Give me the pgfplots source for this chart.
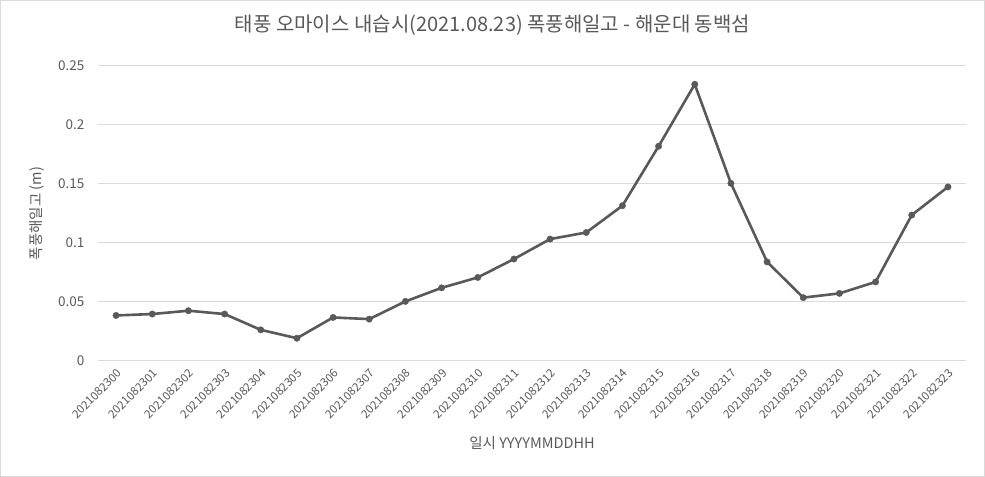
\documentclass[border=0pt]{standalone}
\usepackage{pgfplots}
\pgfplotsset{compat=1.18}
\usepackage{fontspec}
\setmainfont{Noto Sans CJK KR}
\definecolor{txt}{HTML}{595959}
\definecolor{grd}{HTML}{D9D9D9}
\definecolor{ln}{HTML}{595959}
\begin{document}
\begin{tikzpicture}[x=1bp,y=1bp]
\draw[color=grd, line width=1bp] (0.5,0.5) rectangle (984.5,476.5);
\begin{axis}[
  at={(98bp,116bp)}, anchor=south west,
  scale only axis, width=868bp, height=295bp,
  xmin=-0.5, xmax=23.5, ymin=0, ymax=0.25,
  axis line style={draw=none},
  x axis line style={draw=grd, line width=1bp},
  y axis line style={draw=none},
  ymajorgrids, grid style={draw=grd, line width=1bp},
  major tick length=0pt,
  xtick={0,...,23},
  xticklabels={2021082300,2021082301,2021082302,2021082303,2021082304,2021082305,2021082306,2021082307,2021082308,2021082309,2021082310,2021082311,2021082312,2021082313,2021082314,2021082315,2021082316,2021082317,2021082318,2021082319,2021082320,2021082321,2021082322,2021082323},
  ytick={0,0.05,0.1,0.15,0.2,0.25},
  yticklabels={0,0.05,0.1,0.15,0.2,0.25},
  /pgf/number format/assume math mode=true,
  xticklabel style={rotate=45, anchor=east, font=\fontsize{11.5bp}{13bp}\selectfont, text=txt, xshift=-1.5bp, yshift=-9.5bp},
  yticklabel style={font=\fontsize{13.5bp}{15bp}\selectfont, text=txt, xshift=-10bp},
  title={태풍 오마이스 내습시(2021.08.23) 폭풍해일고 - 해운대 동백섬},
  title style={at={(axis description cs:0.4545,1)}, anchor=center, yshift=35bp, font=\fontsize{20bp}{22bp}\selectfont, text=txt},
  xlabel={일시 YYYYMMDDHH},
  xlabel style={at={(axis description cs:0.5,0)}, anchor=center, yshift=-82bp, font=\fontsize{14.5bp}{16bp}\selectfont, text=txt},
  ylabel={폭풍해일고 (m)},
  ylabel style={at={(axis description cs:0,0.5)}, anchor=center, yshift=61bp, font=\fontsize{14.5bp}{16bp}\selectfont, text=txt},
  clip=false,
]
\addplot[color=ln, line width=2.6bp, mark=*, mark size=3.2bp, mark options={solid, fill=ln, draw=ln, line width=0.4bp}] coordinates {
(0,0.0386) (1,0.0398) (2,0.0426) (3,0.0398) (4,0.0264) (5,0.0193)
(6,0.0369) (7,0.0355) (8,0.0505) (9,0.062) (10,0.0708) (11,0.0864)
(12,0.1033) (13,0.1089) (14,0.1316) (15,0.182) (16,0.2345) (17,0.1506)
(18,0.084) (19,0.0537) (20,0.0573) (21,0.067) (22,0.1237) (23,0.1475)
};
\end{axis}
\end{tikzpicture}
\end{document}
